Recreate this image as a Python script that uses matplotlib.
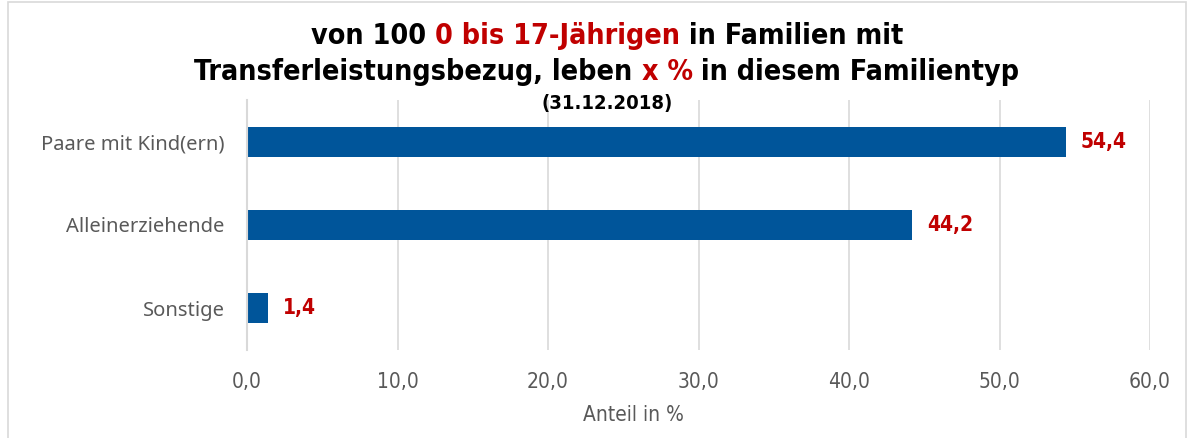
import matplotlib
matplotlib.use("Agg")
import matplotlib.pyplot as plt
from matplotlib import font_manager
from matplotlib.patches import Rectangle

categories = ["Paare mit Kind(ern)", "Alleinerziehende", "Sonstige"]
values = [54.4, 44.2, 1.4]
xticks = [0, 10, 20, 30, 40, 50, 60]
xlabel = "Anteil in %"
title_line1 = [("von 100 ", "black"), ("0 bis 17-Jährigen", "#C00000"), (" in Familien mit", "black")]
title_line2 = [("Transferleistungsbezug, leben ", "black"), ("x %", "#C00000"), (" in diesem Familientyp", "black")]
title_line3 = "(31.12.2018)"

names = {f.name for f in font_manager.fontManager.ttflist}
if "Liberation Sans Narrow" in names:
    COND = dict(family="Liberation Sans Narrow")
else:
    COND = dict(family="DejaVu Sans", stretch="condensed")

W, H = 1190, 438
fig = plt.figure(figsize=(W / 100, H / 100), dpi=100)
fig.patch.set_facecolor("white")
fig.add_artist(Rectangle((8 / W, -0.01), (W - 12) / W, 1 - 2 / H + 0.01, transform=fig.transFigure,
                         fill=False, edgecolor="#D9D9D9", linewidth=1.2))

ax = fig.add_axes([247 / W, 1 - 350 / H, (1150 - 247) / W, 250 / H])
blue = "#00559A"
ypos = list(range(len(categories)))
ax.barh(ypos, values, height=0.36, color=blue)
ax.set_ylim(2.5, -0.5)
ax.set_xlim(0, 60)
ax.set_xticks(xticks)
ax.set_xticklabels([f"{t:.1f}".replace(".", ",") for t in xticks], color="#595959", fontsize=15, **COND)
ax.set_yticks(ypos)
ax.set_yticklabels(categories, color="#595959", fontsize=14.5, family="Noto Sans")
ax.tick_params(axis="both", length=0)
ax.tick_params(axis="x", pad=16)
ax.tick_params(axis="y", pad=16)
for s in ["top", "right", "bottom"]:
    ax.spines[s].set_visible(False)
ax.spines["left"].set_color("#D9D9D9")
ax.spines["left"].set_linewidth(1.5)
ax.grid(axis="x", color="#D9D9D9", linewidth=1.2)
ax.set_axisbelow(True)

for y, v in zip(ypos, values):
    ax.annotate(f"{v:.1f}".replace(".", ","), (v, y), xytext=(11, 0), textcoords="offset points",
                va="center", ha="left", color="#C00000", fontsize=15, fontweight="bold", **COND)

fig.text(633 / W, 1 - 415 / H, xlabel, ha="center", va="center", color="#595959", fontsize=15, **COND)

renderer = fig.canvas.get_renderer()


def colored_line(parts, cx, cy, size):
    texts = []
    for s, c in parts:
        t = fig.text(0, cy, s, color=c, fontsize=size, fontweight="bold", va="center", ha="left", **COND)
        texts.append(t)
    widths = [t.get_window_extent(renderer).width for t in texts]
    total = sum(widths)
    x = cx - total / 2
    for t, w in zip(texts, widths):
        t.set_x(x / W)
        x += w


colored_line(title_line1, 607, 1 - 36 / H, 20.5)
colored_line(title_line2, 607, 1 - 72 / H, 20.5)
fig.text(607 / W, 1 - 103 / H, title_line3, ha="center", va="center", fontsize=14.5, fontweight="bold", **COND)

fig.savefig("out.png", dpi=100)
